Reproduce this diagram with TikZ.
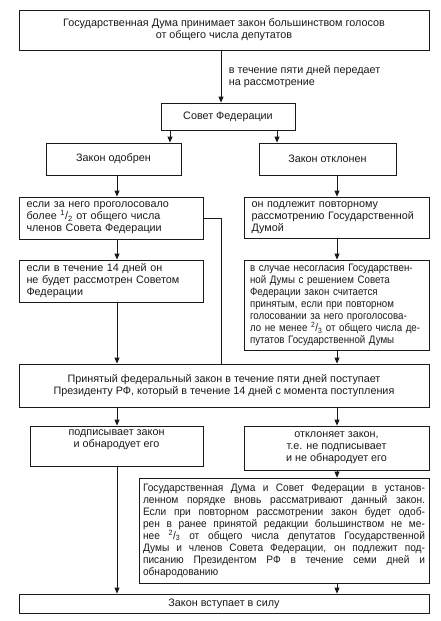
\documentclass[tikz,border=0pt]{standalone}
\usepackage{fontspec}
\setmainfont{Liberation Sans}
\newfontfamily\narrowfont{Liberation Sans}[FakeStretch=0.9]
\newfontfamily\justfont{Liberation Sans}[FakeStretch=0.94]
\usepackage{xcolor}
\usepackage{tikz}
\usetikzlibrary{arrows.meta}
\definecolor{ink}{HTML}{1A1A1A}
\newcommand{\boxfont}{\fontsize{10.8}{12}\selectfont}
\newcommand{\frc}[2]{\textsuperscript{#1}/\textsubscript{#2}}
\tikzset{
  box/.style={rectangle, draw=ink, line width=0.8pt, fill=white, text=ink,
              align=center, font=\boxfont, inner sep=0pt},
  lbox/.style={box, align=left, inner xsep=7.5pt},
  jbox/.style={box, align=justify, inner xsep=4pt, font=\justfont\boxfont},
  fl/.style={-{Triangle[length=6pt,width=5pt]}, draw=ink, line width=0.8pt},
  ln/.style={draw=ink, line width=0.8pt},
  lbl/.style={font=\boxfont, text=ink, align=left, inner sep=0pt}
}

\begin{document}
\begin{tikzpicture}[x=1pt, y=-1pt]
  \useasboundingbox (0,0) rectangle (441,621);
  % columns of the connectors
  \coordinate (cL) at (117,0);
  \coordinate (cM) at (221,0);
  \coordinate (cR) at (337,0);
  \coordinate (sL) at (170,0);
  \coordinate (sR) at (277,0);

  % upper part
  \node[box, minimum width=410pt, minimum height=40pt] (duma) at (224,30)
    {Государственная Дума принимает закон большинством голосов\\от общего числа депутатов};
  \node[box, minimum width=134pt, minimum height=27pt] (sovet) at (228,116.5) {Совет Федерации};
  \node[box, minimum width=135pt, minimum height=32pt] (odobr) at (113.5,159) {Закон одобрен};
  \node[box, minimum width=137pt, minimum height=32pt] (otkl) at (327.5,159) {Закон отклонен};
  \draw[fl] (duma.south -| cM) -- node[lbl, right=7.5pt]{в течение пяти дней передает\\на рассмотрение} (sovet.north -| cM);
  \draw[fl] (sovet.south -| sL) -- (odobr.north -| sL);
  \draw[fl] (sovet.south -| sR) -- (otkl.north -| sR);

  % two branches
  \node[lbox, text width=169pt, minimum height=42pt] (golos) at (111,218)
    {если за него проголосовало\\более \frc12 от общего числа\\членов Совета Федерации};
  \node[lbox, text width=170pt, minimum height=41pt] (povt) at (336.5,217.5)
    {он подлежит повторному\\рассмотрению Государственной\\Думой};
  \node[lbox, text width=169pt, minimum height=42pt] (srok) at (111,281)
    {если в течение 14 дней он\\не будет рассмотрен Советом\\Федерации};
  \node[lbox, text width=173pt, inner xsep=6pt, minimum height=90pt, font=\narrowfont\boxfont] (nesogl) at (336.5,305)
    {в случае несогласия Государствен-\\ной Думы с решением Совета\\Федерации закон считается\\принятым, если при повторном\\голосовании за него проголосова-\\ло не менее \frc23 от общего числа де-\\путатов Государственной Думы};
  \draw[fl] (odobr.south -| cL) -- (golos.north -| cL);
  \draw[fl] (otkl.south -| cR) -- (povt.north -| cR);
  \draw[fl] (golos.south -| cL) -- (srok.north -| cL);
  \draw[fl] (povt.south -| cR) -- (nesogl.north -| cR);

  % president
  \node[box, minimum width=410pt, minimum height=43pt] (prez) at (224,385.5)
    {Принятый федеральный закон в течение пяти дней поступает\\Президенту РФ, который в течение 14 дней с момента поступления};
  \draw[fl] (srok.south -| cL) -- (prez.north -| cL);
  \draw[fl] (nesogl.south -| cR) -- (prez.north -| cR);
  \draw[ln] (golos.east) -| (prez.north -| cM);

  \node[box, minimum width=173pt, minimum height=40pt,
        label={[lbl, align=center, anchor=north, yshift=-4pt]north:подписывает закон\\и обнародует его}] (podp) at (116.5,446) {};
  \node[box, minimum width=185pt, minimum height=44pt] (otkl2) at (336.5,448)
    {отклоняет закон,\\т.е. не подписывает\\и не обнародует его};
  \node[jbox, text width=282pt, minimum height=105pt] (vnov) at (284,530.5)
    {Государственная Дума и Совет Федерации в установ-\linebreak ленном порядке вновь рассматривают данный закон.\linebreak Если при повторном рассмотрении закон будет одоб-\linebreak рен в ранее принятой редакции большинством не ме-\linebreak нее \frc23 от общего числа депутатов Государственной\linebreak Думы и членов Совета Федерации, он подлежит под-\linebreak писанию Президентом РФ в течение семи дней и\linebreak обнародованию};
  \node[box, minimum width=410pt, minimum height=19pt] (sila) at (224,603.5) {Закон вступает в силу};
  \draw[fl] (prez.south -| cL) -- (podp.north -| cL);
  \draw[fl] (prez.south -| cR) -- (otkl2.north -| cR);
  \draw[fl] (podp.south -| cL) -- (sila.north -| cL);
  \draw[fl] (otkl2.south -| cR) -- (vnov.north -| cR);
  \draw[fl] (vnov.south -| cR) -- (sila.north -| cR);
\end{tikzpicture}
\end{document}
